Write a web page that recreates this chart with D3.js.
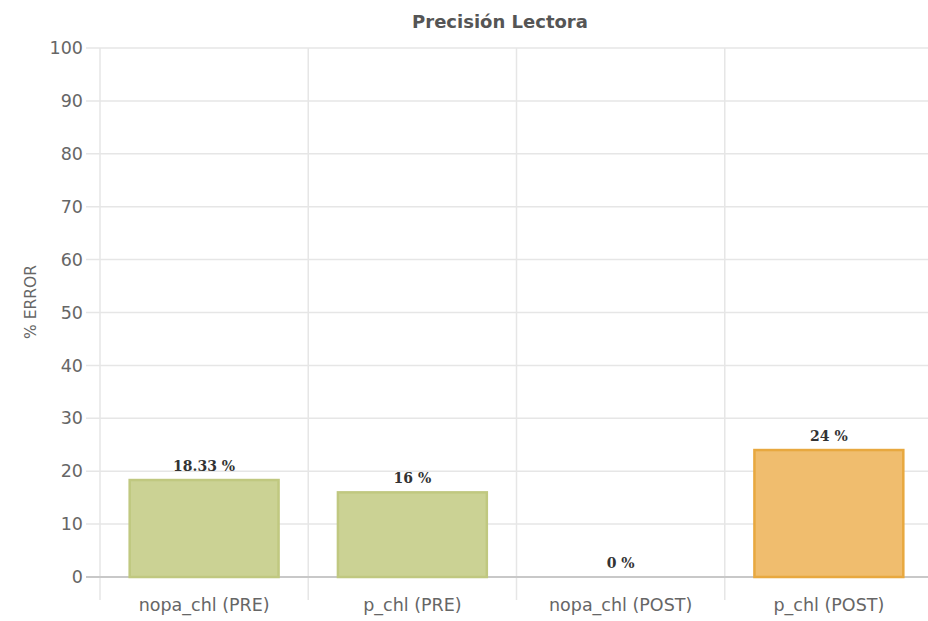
<!DOCTYPE html>
<html><head><meta charset="utf-8">
<script src="https://cdn.jsdelivr.net/npm/d3@7"></script>
<style>body{margin:0;background:#fff}svg{display:block}</style>
</head><body>
<svg id="c" width="928" height="621"></svg>
<script>
const categories = ["nopa_chl (PRE)", "p_chl (PRE)", "nopa_chl (POST)", "p_chl (POST)"];
const values = [18.33, 16, 0, 24];
const labels = ["18.33 %", "16 %", "0 %", "24 %"];
const fills = ["#cbd294", "#cbd294", "#cbd294", "#f0bd6e"];
const strokes = ["#c0c880", "#c0c880", "#c0c880", "#e8a83f"];
const yTicks = [0,10,20,30,40,50,60,70,80,90,100];

const svg = d3.select("#c");
const m = {left:100, right:933, top:48, bottom:577};
const x = d3.scaleBand().domain(categories).range([m.left, m.right]).paddingInner(0).paddingOuter(0);
const y = d3.scaleLinear().domain([0,100]).range([m.bottom, m.top]);

// horizontal grid
svg.append("g").selectAll("line").data(yTicks.filter(d=>d>0)).join("line")
  .attr("x1", 86).attr("x2", 928).attr("y1", d=>y(d)).attr("y2", d=>y(d))
  .attr("stroke", "#e6e6e6").attr("stroke-width", 1.5);
// vertical grid
const vx = categories.map(c=>x(c)).concat([m.right]);
svg.append("g").selectAll("line").data(vx).join("line")
  .attr("x1", d=>d).attr("x2", d=>d).attr("y1", m.top).attr("y2", 600)
  .attr("stroke", "#e6e6e6").attr("stroke-width", 1.5);

// y axis labels
const ya = svg.append("g").attr("transform", `translate(${m.left},0)`)
  .call(d3.axisLeft(y).tickValues(yTicks).tickSize(0).tickPadding(17));
ya.select(".domain").remove();
ya.selectAll("text").attr("font-family","DejaVu Sans").attr("font-size",17.5).attr("fill","#666");

// x axis
const xa = svg.append("g").attr("transform", `translate(0,${m.bottom})`)
  .call(d3.axisBottom(x).tickSize(0).tickPadding(22));
xa.select(".domain").attr("stroke","#c8c8c8").attr("stroke-width",2).attr("d", `M86,0H928`);
xa.selectAll("text").attr("font-family","DejaVu Sans").attr("font-size",17.5).attr("fill","#666");

// bars
const bw = x.bandwidth()*0.715;
svg.append("g").selectAll("rect").data(values).join("rect")
  .attr("x", (d,i)=>x(categories[i]) + (x.bandwidth()-bw)/2)
  .attr("width", bw)
  .attr("y", d=>y(d))
  .attr("height", d=>y(0)-y(d))
  .attr("fill", (d,i)=>fills[i])
  .attr("stroke", (d,i)=>d>0?strokes[i]:"none").attr("stroke-width", 2.5);

// value labels
svg.append("g").selectAll("text").data(values).join("text")
  .attr("x", (d,i)=>x(categories[i]) + x.bandwidth()/2)
  .attr("y", d=>y(d)-9)
  .attr("text-anchor","middle")
  .attr("font-family","DejaVu Serif").attr("font-weight","bold").attr("font-size",14)
  .attr("fill","#333")
  .text((d,i)=>labels[i]);

// title
svg.append("text").attr("x", 500).attr("y", 28).attr("text-anchor","middle")
  .attr("font-family","DejaVu Sans").attr("font-weight","bold").attr("font-size",18)
  .attr("fill","#555").text("Precisión Lectora");

// y label
svg.append("text").attr("transform","translate(36,302) rotate(-90)").attr("text-anchor","middle")
  .attr("font-family","DejaVu Sans").attr("font-size",15.5).attr("fill","#666").text("% ERROR");
</script>
</body></html>
